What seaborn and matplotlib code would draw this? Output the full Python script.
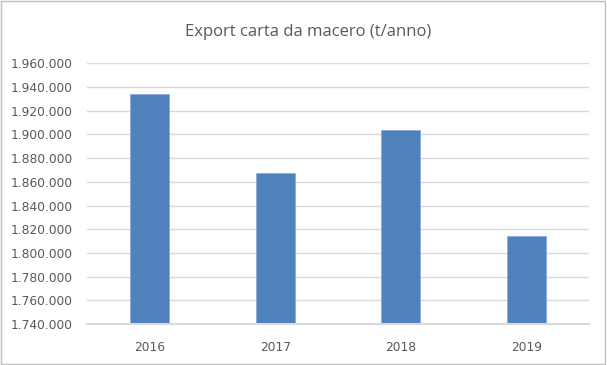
import matplotlib
matplotlib.use("Agg")
import matplotlib.pyplot as plt
import seaborn as sns
import pandas as pd
from matplotlib.ticker import FuncFormatter, MultipleLocator
from matplotlib.patches import Rectangle

years = ["2016", "2017", "2018", "2019"]
export_t = [1933800, 1867200, 1903700, 1814500]

BAR = "#4f81bd"
GRID = "#d9d9d9"
TEXT = "#595959"

sns.set_style("white")
plt.rcParams["font.family"] = ["DejaVu Sans"]

df = pd.DataFrame({"anno": years, "t": export_t})

fig = plt.figure(figsize=(6.07, 3.65), dpi=100)
ax = fig.add_axes([0.1433, 0.1123, 0.8271, 0.7143])

sns.barplot(data=df, x="anno", y="t", color=BAR, saturation=1, width=0.31,
            edgecolor="#8eaadb", linewidth=0.6, ax=ax)

ax.set_ylim(1740000, 1960000)
ax.yaxis.set_major_locator(MultipleLocator(20000))
ax.yaxis.set_major_formatter(FuncFormatter(lambda v, p: f"{int(round(v)):,}".replace(",", ".")))
ax.grid(axis="y", color=GRID, linewidth=1)
ax.set_axisbelow(True)
for s in ["top", "right", "left"]:
    ax.spines[s].set_visible(False)
ax.spines["bottom"].set_color(GRID)
ax.spines["bottom"].set_linewidth(1.5)
ax.spines["bottom"].set_zorder(3)
ax.tick_params(axis="both", length=0, labelsize=8.8, colors=TEXT)
ax.tick_params(axis="y", pad=10)
ax.tick_params(axis="x", pad=12)
ax.set_xlabel("")
ax.set_ylabel("")

fig.suptitle("Export carta da macero (t/anno)", x=0.507, y=0.935, fontsize=12, color=TEXT,
             family=["Open Sans", "DejaVu Sans"])

fig.patches.append(Rectangle((0.002, 0.003), 0.995, 0.993, transform=fig.transFigure,
                             fill=False, edgecolor="#bfbfbf", linewidth=1))

fig.savefig("out.png", dpi=100)
